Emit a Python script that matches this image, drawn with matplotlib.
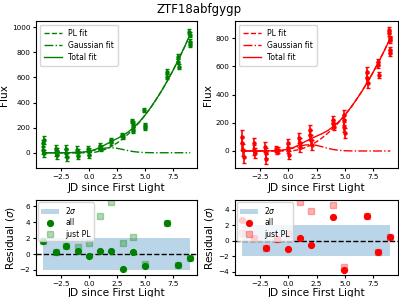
import matplotlib
matplotlib.use("Agg")
import matplotlib.pyplot as plt

title = "ZTF18abfgygp"

# ---- photometry (green band) ----
g_t = [-4.1, -4.05, -4.0, -3.95, -2.95, -2.9, -2.85, -2.8, -2.05, -2.0, -1.95,
       -1.05, -1.0, -0.95, -0.05, 0.0, 0.05, 0.95, 1.0, 1.05, 1.95, 2.0,
       2.95, 3.0, 3.85, 3.9, 3.9, 3.95, 4.9, 4.95, 4.95, 6.9, 6.95,
       7.9, 7.95, 8.0, 8.9, 8.95, 8.95, 9.0]
g_flux = [75, 22, 101, -5, 30, 5, -20, 10, 30, 0, -35,
          25, 5, -25, 30, 10, -20, 55, 40, 30, 100, 85,
          140, 125, 255, 235, 170, 205, 340, 220, 200, 646, 606,
          766, 726, 686, 965, 939, 885, 859]
g_err = [30, 30, 30, 30, 30, 30, 30, 30, 30, 30, 30,
         25, 25, 25, 25, 25, 25, 20, 20, 20, 20, 20,
         15, 15, 15, 15, 15, 15, 15, 15, 15, 20, 20,
         20, 20, 20, 20, 20, 20, 20]

# ---- photometry (red band) ----
r_t = [-4.1, -4.05, -4.0, -3.95, -3.05, -3.0, -2.95, -2.05, -2.0, -1.95,
       -1.05, -1.0, -0.95, -0.05, 0.0, 0.05, 0.95, 1.0, 1.05,
       1.9, 1.95, 2.0, 2.05, 3.9, 3.95, 4.0, 4.9, 4.95, 4.95, 5.0,
       6.9, 6.95, 7.0, 7.9, 7.95, 8.0, 8.85, 8.9, 8.95, 8.95, 9.0, 9.0]
r_flux = [101, 55, 7, -40, 55, 7, -17, 30, -17, -59,
          12, -5, 5, 55, 19, -28, 90, 55, 30,
          149, 113, 78, 43, 220, 196, 172, 255, 220, 172, 125,
          563, 516, 480, 634, 610, 539, 857, 835, 800, 787, 717, 694]
r_err = [45, 45, 45, 45, 35, 35, 35, 35, 35, 35,
         20, 20, 20, 30, 30, 30, 35, 35, 35,
         35, 35, 35, 35, 25, 25, 25, 35, 35, 35, 35,
         35, 35, 35, 20, 20, 20, 20, 20, 20, 20, 20, 20]

# ---- fit curves (sampled) ----
fit_t = [-4.1, -3.0, -2.0, -1.0, -0.5, 0.0, 0.5, 1.0, 1.5, 2.0, 2.5, 3.0, 3.5,
         4.0, 4.5, 5.0, 5.5, 6.0, 6.5, 7.0, 7.5, 8.0, 8.5, 9.0]
g_pl = [0, 0, 0, 0, 0, 0, 3.4, 13, 28.7, 50.2, 77.6, 110.8, 149.6,
        194.1, 244.1, 300, 361.1, 428, 500, 578, 661, 750, 844, 944]
g_gauss = [0, 0, 0.2, 2.2, 5.4, 11.4, 20.2, 30.2, 37.8, 39.9, 35.3, 26.3, 16.4,
           8.7, 3.8, 1.4, 0.4, 0.1, 0, 0, 0, 0, 0, 0]
r_pl = [0, 0, 0, 0, 0, 0, 2.9, 11.05, 24.4, 42.7, 66, 94.2, 127.2,
        165, 207.5, 255, 306.9, 363.8, 425, 491.3, 561.9, 637.5, 717.4, 802.4]
r_gauss = [0, 0, 0.2, 2.5, 6.1, 12.8, 22.7, 34, 42.5, 44.9, 39.7, 29.6, 18.5,
           9.8, 4.3, 1.6, 0.5, 0.1, 0, 0, 0, 0, 0, 0]

# ---- residuals ----
g_res_t = [-4.05, -2.9, -2.0, -1.0, 0.0, 1.0, 2.0, 3.0, 3.9, 4.95, 6.95, 7.95, 8.95]
g_res_all = [1.64, 0.21, 1.0, 0.38, -0.21, 0.38, 0.38, -1.89, 0.29, -1.51, 3.94, -1.38, -0.46]
g_res_pl = [1.64, 0.21, 1.0, 0.84, 1.42, 4.82, 6.5, 1.42, 2.1, -1.26, 3.94, -1.38, -0.46]

r_res_t = [-4.05, -3.0, -2.0, -1.0, 0.0, 1.0, 2.0, 3.95, 4.95, 6.95, 7.95, 8.95]
r_res_all = [2.6, 0.39, -0.98, 0.22, -1.1, 0.39, -0.55, 3.08, -3.76, 3.17, -1.49, 0.51]
r_res_pl = [1.05, 0.39, -0.98, 0.22, 0.82, 4.92, 3.8, 4.58, -3.33, 3.17, -1.49, 0.51]

W, H = 399, 297
fig = plt.figure(figsize=(W / 100, H / 100), dpi=100)

def ax_at(x0, y0, x1, y1):
    return fig.add_axes([x0 / W, 1 - y1 / H, (x1 - x0) / W, (y1 - y0) / H])

ax_g = ax_at(36, 21, 197.3, 168.3)
ax_r = ax_at(235, 21, 397.5, 168.3)
ax_gr = ax_at(36, 200, 197.3, 275)
ax_rr = ax_at(235, 200, 397.5, 275)

TS = 5.2
LS = 7.6
LEG = 5.5

def top_panel(ax, t, f, e, pl, ga, col, ylim):
    ax.errorbar(t, f, yerr=e, fmt='o', color=col, ms=2.2, elinewidth=1.2, capsize=1.5, capthick=1)
    tot = [a + b for a, b in zip(pl, ga)]
    ax.plot(fit_t, pl, '--', color=col, lw=1, label='PL fit')
    ax.plot(fit_t, ga, '-.', color=col, lw=1, label='Gaussian fit')
    ax.plot(fit_t, tot, '-', color=col, lw=1, label='Total fit')
    ax.set_xlim(-4.7, 9.63)
    ax.set_ylim(*ylim)
    ax.set_ylabel('Flux', fontsize=LS, labelpad=2)
    ax.set_xlabel('JD since First Light', fontsize=LS, labelpad=2)
    ax.tick_params(labelsize=TS, length=2.5, pad=1.5)
    ax.legend(loc='upper left', fontsize=LEG, handlelength=2.4, borderpad=0.5,
              labelspacing=0.4, handletextpad=0.8)

def res_panel(ax, t, ra, rp, col, ylim):
    ax.fill_between([-4.1, 9.0], [-2, -2], [2, 2], color='C0', alpha=0.3, lw=0, label='2$\\sigma$')
    ax.plot(t, ra, 'o', color=col, ms=4.2, label='all', zorder=3)
    ax.plot(t, rp, 's', color=col, ms=4.2, alpha=0.3, label='just PL', zorder=2)
    ax.axhline(0, color='k', ls='--', lw=1)
    ax.set_xlim(-4.7, 9.63)
    ax.set_ylim(*ylim)
    ax.set_ylabel('Residual ($\\sigma$)', fontsize=LS, labelpad=2)
    ax.set_xlabel('JD since First Light', fontsize=LS, labelpad=1)
    ax.tick_params(labelsize=TS, length=2.5, pad=1.5)
    ax.legend(loc='upper left', fontsize=LEG, handlelength=2.4, borderpad=0.35,
              labelspacing=0.3, handletextpad=0.8, borderaxespad=0.3)

top_panel(ax_g, g_t, g_flux, g_err, g_pl, g_gauss, 'green', (-124, 1050))
top_panel(ax_r, r_t, r_flux, r_err, r_pl, r_gauss, 'red', (-123, 923))
res_panel(ax_gr, g_res_t, g_res_all, g_res_pl, 'green', (-2.64, 6.79))
res_panel(ax_rr, r_res_t, r_res_all, r_res_pl, 'red', (-4.4, 5.22))

fig.text(0.5, 1 - 10 / H, title, ha='center', va='center', fontsize=8.5)

fig.savefig('out.png', dpi=100)
